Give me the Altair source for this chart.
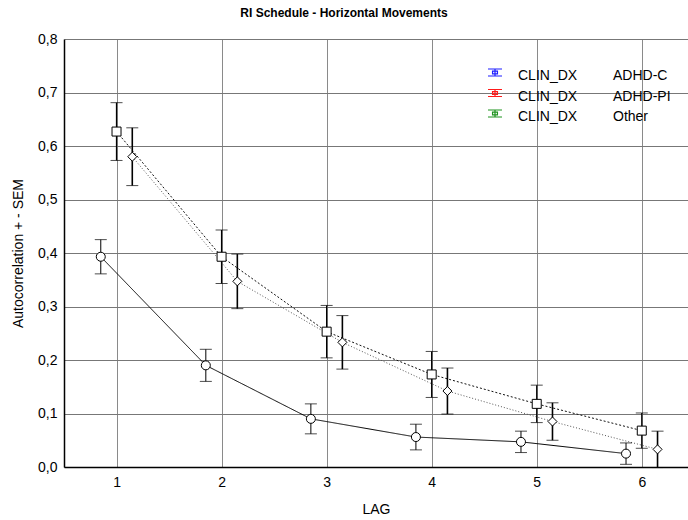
import altair as alt
import pandas as pd

# ---- data ----
lags = [1, 2, 3, 4, 5, 6]
groups = ["ADHD-C", "ADHD-PI", "Other"]

mean_c = [0.393, 0.190, 0.090, 0.056, 0.047, 0.025]
sem_c = [0.032, 0.030, 0.028, 0.024, 0.020, 0.020]

mean_pi = [0.627, 0.393, 0.253, 0.173, 0.118, 0.068]
sem_pi = [0.054, 0.050, 0.049, 0.043, 0.035, 0.033]

mean_o = [0.580, 0.347, 0.233, 0.142, 0.085, 0.033]
sem_o = [0.054, 0.051, 0.050, 0.043, 0.035, 0.034]

y_ticks = [0.0, 0.1, 0.2, 0.3, 0.4, 0.5, 0.6, 0.7, 0.8]

legend_var = "CLIN_DX"
legend_colors = ["#1f1fff", "#ff1a1a", "#1f931f"]

# style: horizontal jitter of each group around the lag
offsets = {"ADHD-C": -0.15, "ADHD-PI": 0.0, "Other": 0.15}

rows = []
for g, means, sems in zip(groups, [mean_c, mean_pi, mean_o], [sem_c, sem_pi, sem_o]):
    for lag, m, s in zip(lags, means, sems):
        rows.append(dict(group=g, lag=lag, x=lag + offsets[g], mean=m, lo=m - s, hi=m + s))
df = pd.DataFrame(rows)
legend_df = pd.DataFrame({"grp": groups})

FONT = "Liberation Sans"

xscale = alt.Scale(domain=[0.5, 6.44], nice=False, zero=False)
yscale = alt.Scale(domain=[0, 0.8], nice=False, zero=False)

x_enc = alt.X(
    "x:Q", scale=xscale,
    axis=alt.Axis(values=lags, title="LAG", format="d", ticks=False,
                  labelPadding=8, titleY=42, titleBaseline="middle",
                  labelFont=FONT, labelFontSize=14, labelColor="black",
                  titleFont=FONT, titleFontSize=14, titleFontWeight="normal", titleColor="black",
                  domainColor="black", domainWidth=1.5,
                  gridColor="#8a8a8a", gridWidth=1),
)
y_enc = alt.Y(
    "mean:Q", scale=yscale,
    axis=alt.Axis(values=y_ticks, title="Autocorrelation + - SEM", ticks=False,
                  labelPadding=7,
                  labelExpr="replace(format(datum.value, '.1f'), '.', ',')",
                  labelFont=FONT, labelFontSize=14, labelColor="black",
                  titleFont=FONT, titleFontSize=14, titleFontWeight="normal", titleColor="black",
                  titleX=-46, titleY=214, titleAlign="center", titleBaseline="middle",
                  domainColor="black", domainWidth=1.5,
                  gridColor="#777777", gridWidth=1),
)

base = alt.Chart(df)

lines = base.mark_line(strokeWidth=1).encode(
    x=x_enc, y=y_enc, detail="group:N",
    strokeDash=alt.StrokeDash("group:N", scale=alt.Scale(domain=groups, range=[[1, 0], [2, 2], [1, 2]]), legend=None),
    stroke=alt.Stroke("group:N", scale=alt.Scale(domain=groups, range=["#000000", "#111111", "#555555"]), legend=None),
)

bars = base.mark_rule(color="black").encode(
    x="x:Q", y="lo:Q", y2="hi:Q",
    strokeWidth=alt.StrokeWidth("group:N", scale=alt.Scale(domain=groups, range=[1, 1.6, 1]), legend=None),
)

cap_lo = base.mark_tick(orient="horizontal", size=12, thickness=1, color="black").encode(x="x:Q", y="lo:Q")
cap_hi = base.mark_tick(orient="horizontal", size=12, thickness=1, color="black").encode(x="x:Q", y="hi:Q")

markers = base.mark_point(filled=True, fill="white", stroke="black", strokeWidth=1, size=81, opacity=1).encode(
    x="x:Q", y="mean:Q",
    shape=alt.Shape("group:N", scale=alt.Scale(domain=groups, range=["circle", "square", "diamond"]), legend=None),
)

main = alt.layer(lines, bars, cap_lo, cap_hi, markers)

# ---- hand-built legend (its own scales) ----
icon = "M-1,-1H1M-1,0H1M0,-1V0M-0.35,-0.7H0.35V-0.3H-0.35Z"
leg_base = alt.Chart(legend_df)
leg_y = alt.Y("grp:N", scale=alt.Scale(type="point", domain=groups, range=[37, 78], padding=0), axis=None)

leg_sym = leg_base.mark_point(shape=icon, filled=False, size=196, strokeWidth=1.2, opacity=1).encode(
    x=alt.value(431), y=leg_y,
    color=alt.Color("grp:N", scale=alt.Scale(domain=groups, range=legend_colors), legend=None),
)
leg_txt1 = leg_base.mark_text(align="left", baseline="middle", font=FONT, fontSize=14, color="black").encode(
    x=alt.value(454), y=leg_y, text=alt.value(legend_var),
)
leg_txt2 = leg_base.mark_text(align="left", baseline="middle", font=FONT, fontSize=14, color="black").encode(
    x=alt.value(549), y=leg_y, text=alt.Text("grp:N"),
)
legend = alt.layer(leg_sym, leg_txt1, leg_txt2)

chart = alt.layer(main, legend).resolve_scale(
    y="independent", color="independent"
).properties(
    width=624, height=428,
    padding={"left": 64, "top": 39, "right": 0, "bottom": 53},
    autosize=alt.AutoSizeParams(type="none"),
    background="white",
    title=alt.TitleParams(
        "RI Schedule - Horizontal Movements", font=FONT, fontSize=12, fontWeight="bold",
        color="black", anchor="middle", dx=-32, offset=12,
    ),
).configure_view(stroke=None)

chart.save("out.html", embed_options={"renderer": "svg", "actions": False})
